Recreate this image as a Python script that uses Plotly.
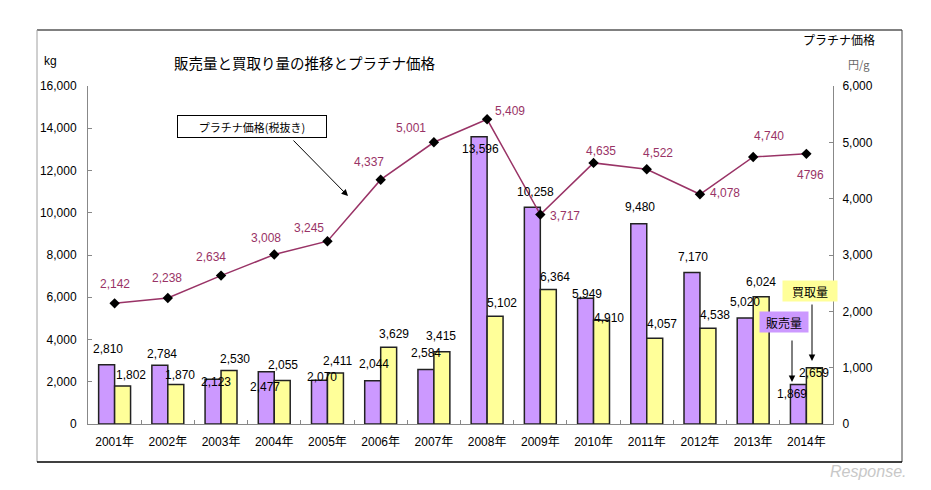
import plotly.graph_objects as go

# ---- data ----
years = ["2001年", "2002年", "2003年", "2004年", "2005年", "2006年", "2007年",
         "2008年", "2009年", "2010年", "2011年", "2012年", "2013年", "2014年"]
sales = [2810, 2784, 2123, 2477, 2070, 2044, 2584, 13596, 10258, 5949, 9480, 7170, 5020, 1869]
purchase = [1802, 1870, 2530, 2055, 2411, 3629, 3415, 5102, 6364, 4910, 4057, 4538, 6024, 2659]
price = [2142, 2238, 2634, 3008, 3245, 4337, 5001, 5409, 3717, 4635, 4522, 4078, 4740, 4796]
price_text = ["2,142", "2,238", "2,634", "3,008", "3,245", "4,337", "5,001",
              "5,409", "3,717", "4,635", "4,522", "4,078", "4,740", "4796"]
left_ticks = [0, 2000, 4000, 6000, 8000, 10000, 12000, 14000, 16000]
right_ticks = [0, 1000, 2000, 3000, 4000, 5000, 6000]

# ---- label offsets (pixels) ----
sales_dx = [-7, -6, -5, -9, -5, -7, -8, -7, -5, -7, -7, -7, -8, -14]
sales_up = [16, 11, -3, -15, 3, 17, 16, -12, 15, 4, 17, 16, 16, -9]
purch_dx = [16, 12, 14, 9, 10, 13, 7, 15, 15, 15, 15, 15, 8, 8]
purch_up = [11, 10, 12, 16, 12, 13, 16, 13, 13, 2, 14, 13, 15, -5]
price_dx = [0, -1, -10, -8, -18, -12, -23, 23, 25, 7, 11, 25, 16, 4]
price_up = [19, 20, 19, 17, 13, 18, 14, 8, -1, 12, 16, 1, 21, -21]

# page has an 8px body margin; figure is sized to fit the 931x490 window
OFF = 8
W, H = 931 - OFF, 490 - OFF
L, T = 88 - OFF, 86 - OFF
PW, PH = 745, 338
R, B = W - L - PW, H - T - PH


def px(x):  # page pixel -> paper
    return (x - OFF - L) / PW


def py(y):  # page pixel -> paper
    return (H - B - (y - OFF)) / PH


FONT = "Liberation Sans, Noto Sans CJK JP, sans-serif"
JFONT = "Noto Sans CJK JP, sans-serif"
PURPLE = "#cc99ff"
YELLOW = "#ffff99"
LINEC = "#993366"

fig = go.Figure()
fig.add_trace(go.Bar(x=years, y=sales, name="販売量", marker=dict(color=PURPLE, line=dict(color="#222", width=1.5))))
fig.add_trace(go.Bar(x=years, y=purchase, name="買取量", marker=dict(color=YELLOW, line=dict(color="#222", width=1.5))))
fig.add_trace(go.Scatter(x=years, y=price, yaxis="y2", mode="lines+markers", name="プラチナ価格",
                         line=dict(color=LINEC, width=1.5),
                         marker=dict(symbol="diamond", size=8, color="black")))

ann = []
for i, yv in enumerate(years):
    ann.append(dict(x=yv, y=sales[i], xref="x", yref="y", text=f"{sales[i]:,}", showarrow=False,
                    xanchor="center", yanchor="middle",
                    xshift=sales_dx[i], yshift=sales_up[i], font=dict(size=12, color="black", family=FONT)))
    ann.append(dict(x=yv, y=purchase[i], xref="x", yref="y", text=f"{purchase[i]:,}", showarrow=False,
                    xanchor="center", yanchor="middle",
                    xshift=purch_dx[i], yshift=purch_up[i], font=dict(size=12, color="black", family=FONT)))
    ann.append(dict(x=yv, y=price[i], xref="x", yref="y2", text=price_text[i], showarrow=False,
                    xanchor="center", yanchor="middle",
                    xshift=price_dx[i], yshift=price_up[i], font=dict(size=12, color=LINEC, family=FONT)))


def txt(x, y, text, size, color="black", family=JFONT, **kw):
    d = dict(x=px(x), y=py(y), xref="paper", yref="paper", text=text, showarrow=False,
             xanchor="center", yanchor="middle", font=dict(size=size, color=color, family=family))
    d.update(kw)
    return d


def arrow(x0, y0, x1, y1):
    return dict(x=px(x1), y=py(y1), xref="paper", yref="paper", text="", showarrow=True,
                ax=x0 - x1, ay=y0 - y1, arrowhead=2, arrowsize=1.3, arrowwidth=1, arrowcolor="black")


ann += [
    txt(304, 62, "販売量と買取り量の推移とプラチナ価格", 14.5),
    txt(50, 61, "kg", 12, family=FONT),
    txt(839, 40, "プラチナ価格", 12),
    txt(859, 64, "円/g", 11, color="#666"),
    txt(252, 126, "プラチナ価格(税抜き)", 11, bgcolor="white", bordercolor="black",
        borderwidth=1, width=146, height=19),
    arrow(292, 139, 348, 196),
    txt(810, 291, "買取量", 12, bgcolor=YELLOW, width=52, height=18),
    txt(784, 322, "販売量", 12, bgcolor=PURPLE, width=46, height=18),
    arrow(812, 303, 812, 361),
    arrow(792, 339, 792, 382),
    txt(868, 471, "<i>Response.</i>", 16, color="#c8c8c8", family=FONT),
]


def hline(x0, x1, y, color, width):
    return dict(type="line", xref="paper", yref="paper", x0=px(x0), x1=px(x1), y0=py(y), y1=py(y),
                line=dict(color=color, width=width))


def vline(x, y0, y1, color, width):
    return dict(type="line", xref="paper", yref="paper", x0=px(x), x1=px(x), y0=py(y0), y1=py(y1),
                line=dict(color=color, width=width))


shapes = [
    hline(37, 902, 30, "#808080", 2),
    vline(37, 30, 462, "#a0a0a0", 1),
    vline(902, 30, 462, "#404040", 1),
    hline(37, 902, 462, "black", 1.5),
]

axis_common = dict(showgrid=False, zeroline=False, showline=True, linecolor="#888", linewidth=1,
                   ticks="inside", ticklen=4, tickcolor="#888",
                   tickfont=dict(size=12, family=FONT, color="black"))

fig.update_layout(
    width=W, height=H,
    margin=dict(l=L, r=R, t=T, b=B, pad=0),
    paper_bgcolor="white", plot_bgcolor="white",
    showlegend=False,
    barmode="group", bargap=0.4, bargroupgap=0,
    font=dict(family=FONT, size=12, color="black"),
    xaxis=dict(type="category", range=[-0.5, len(years) - 0.5], tickson="boundaries",
               ticklabelstandoff=7, **axis_common),
    yaxis=dict(range=[0, 16000], tickvals=left_ticks, tickformat=",", ticklabelstandoff=8, **axis_common),
    yaxis2=dict(range=[0, 6000], tickvals=right_ticks, tickformat=",", overlaying="y", side="right",
                ticklabelstandoff=6, **axis_common),
    annotations=ann,
    shapes=shapes,
)

fig.write_html("out.html")
